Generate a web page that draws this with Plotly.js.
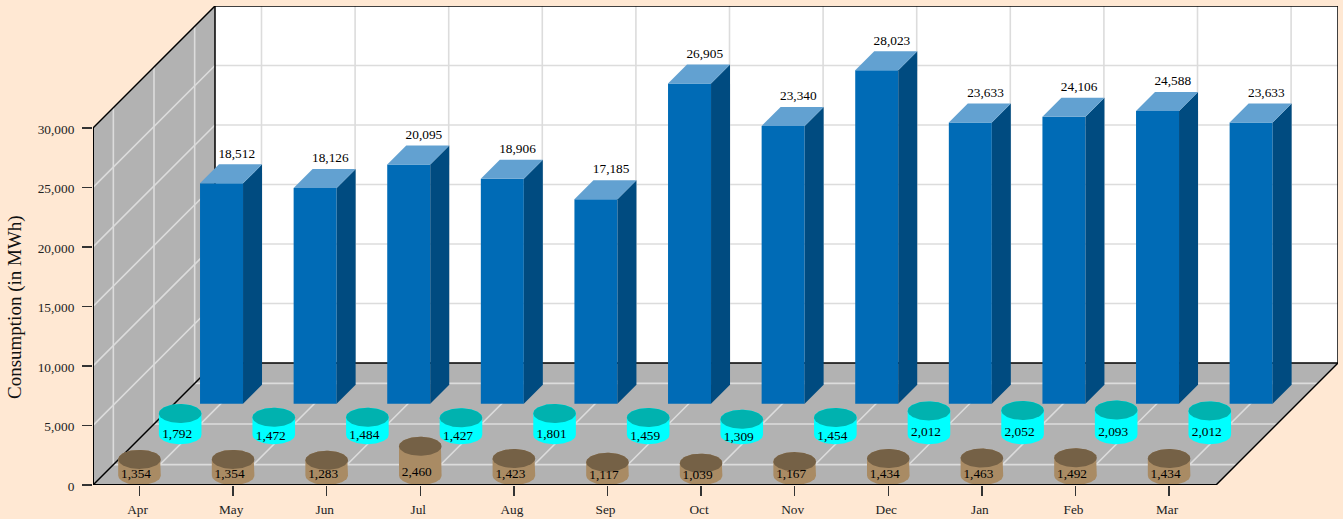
<!DOCTYPE html>
<html>
<head>
<meta charset="utf-8">
<script src="https://cdn.plot.ly/plotly-3.0.1.min.js"></script>
<style>html,body{margin:0;padding:0;background:#FFE8D3;overflow:hidden}</style>
</head>
<body>
<div id="chart" style="width:1343px;height:519px"></div>
<script>
const months = ['Apr','May','Jun','Jul','Aug','Sep','Oct','Nov','Dec','Jan','Feb','Mar'];
const blueValues = [18512,18126,20095,18906,17185,26905,23340,28023,23633,24106,24588,23633];
const cyanValues = [1792,1472,1484,1427,1801,1459,1309,1454,2012,2052,2093,2012];
const brownValues = [1354,1354,1283,2460,1423,1117,1039,1167,1434,1463,1492,1434];
const yTicks = [0,5000,10000,15000,20000,25000,30000];

// Projection: px per axis unit, and the oblique depth of the box
const PXX = 93.6, PXY = 357/30000, DEPTH = 122;
const dX = d => d*DEPTH/PXX, dY = d => d*DEPTH/PXY;
const ux = px => px/PXX, uy = px => px/PXY;
const xL = -46.5/PXX, xR = xL + 1123/PXX;
const xEnd = xL + 1245/PXX, yEnd = uy(479);
const P = (x,y,d) => [x+dX(d), y+dY(d)];

const traces = [];
function poly(pts,color){
  traces.push({type:'scatter',mode:'lines',x:pts.map(p=>p[0]).concat(pts[0][0]),y:pts.map(p=>p[1]).concat(pts[0][1]),
    fill:'toself',fillcolor:color,line:{width:0,color:color},hoverinfo:'skip',showlegend:false,cliponaxis:false});
}
function lines(segs,color,w){
  const x=[],y=[];
  segs.forEach(s=>{x.push(s[0][0],s[1][0],null);y.push(s[0][1],s[1][1],null);});
  traces.push({type:'scatter',mode:'lines',x,y,line:{width:w,color},hoverinfo:'skip',showlegend:false,cliponaxis:false});
}
function labels(x,y,text){
  traces.push({type:'scatter',mode:'text',x,y,text,textposition:'middle center',
    textfont:{family:'"Liberation Serif",serif',size:13.33,color:'#000'},hoverinfo:'skip',showlegend:false,cliponaxis:false});
}
const yTop = 30000, fmt = v => v.toLocaleString('en-US');

// Walls and floor
poly([P(xL,0,1),P(xR,0,1),P(xR,yTop,1),P(xL,yTop,1)],'#FFFFFF');
poly([P(xL,0,0),P(xL,0,1),P(xL,yTop,1),P(xL,yTop,0)],'#B2B2B2');
poly([P(xL,0,0),P(xR,0,0),P(xR,0,1),P(xL,0,1)],'#B2B2B2');

// Grid
const grid = '#DCDCDC', gridW = 1.6;
const depths = [1/6,1/2,5/6];
const back=[], side=[], floor=[];
yTicks.slice(1,-1).forEach(v=>{
  back.push([P(xL,v,1),P(xR,v,1)]);
  side.push([P(xL,v,0),P(xL,v,1)]);
});
months.forEach((m,i)=>{
  back.push([P(i,0,1),P(i,yTop,1)]);
  floor.push([P(i,0,0),P(i,0,1)]);
});
depths.forEach(d=>{
  side.push([P(xL,0,d),P(xL,yTop,d)]);
  floor.push([P(xL,0,d),P(xR,0,d)]);
});
lines(back,grid,gridW); lines(side,grid,gridW); lines(floor,grid,gridW);

// Frame
lines([
  [P(xL,0,0),P(xL,0,1)],[P(xL,yTop,0),P(xL,yTop,1)],[P(xR,0,0),P(xR,0,1)],
  [P(xL,0,1),P(xR,0,1)],[P(xL,yTop,1),P(xR,yTop,1)],[P(xL,0,1),P(xL,yTop,1)],[P(xR,0,1),P(xR,yTop,1)]
],'#000',1.5);

// Blue boxes
const hw = ux(21.5), boxD = 19/DEPTH, blueD = 2/3, blueShift = ux(0.7);
blueValues.forEach((v,i)=>{
  const a=blueD, b=blueD+boxD, l=i-hw+blueShift, r=i+hw+blueShift;
  poly([P(l,0,a),P(r,0,a),P(r,v,a),P(l,v,a)],'#006BB6');
  poly([P(r,0,a),P(r,0,b),P(r,v,b),P(r,v,a)],'#004B80');
  poly([P(l,v,a),P(r,v,a),P(r,v,b),P(l,v,b)],'#62A1D1');
});

// Cylinders
function cylinder(i,v,d,body,top){
  const rx=ux(21.3), ry=uy(9.5), c=P(i,uy(9.5),d), N=48;
  const cx=c[0], cy=c[1];
  const low=[], high=[], cap=[];
  for(let k=0;k<=N;k++){
    const t=Math.PI*k/N;
    low.push([cx-rx*Math.cos(t), cy-ry*Math.sin(t)]);
    high.push([cx+rx*Math.cos(t), cy+v+ry*Math.sin(t)]);
  }
  for(let k=0;k<2*N;k++){
    const t=Math.PI*k/N;
    cap.push([cx+rx*Math.cos(t), cy+v+ry*Math.sin(t)]);
  }
  poly(low.concat(high),body);
  poly(cap,top);
}
cyanValues.forEach((v,i)=>cylinder(i,v,1/3,'#00FFFF','#00B2AF'));
brownValues.forEach((v,i)=>cylinder(i,v,0,'#A98B64','#756146'));

// Axis lines along the front edge
lines([[P(xL,0,0),P(xR,0,0)],[P(xL,0,0),P(xL,yTop,0)]],'#000',2);

// Value labels
labels(months.map((m,i)=>i-hw+blueShift+dX(blueD)+ux(36.7)),blueValues.map(v=>v+dY(blueD)+uy(29)),blueValues.map(fmt));
labels(months.map((m,i)=>i+dX(1/3)-ux(3)),cyanValues.map(v=>v/2+uy(40)),cyanValues.map(fmt));
labels(months.map((m,i)=>i-ux(3.5)),brownValues.map(v=>v*0.17+uy(7.5)),brownValues.map(fmt));

const font = {family:'"Liberation Serif",serif',size:13.33,color:'#222'};
const layout = {
  width:1343,height:519,autosize:false,
  paper_bgcolor:'#FFE8D3',plot_bgcolor:'rgba(0,0,0,0)',
  margin:{l:93,r:5,t:6,b:34,pad:0},
  showlegend:false,hovermode:false,
  xaxis:{range:[xL,xEnd],tickmode:'array',tickvals:months.map((m,i)=>i),ticktext:months,
    showgrid:false,zeroline:false,showline:false,
    ticks:'outside',ticklen:10,tickwidth:1.5,tickcolor:'#333',tickfont:font,ticklabelstandoff:2,ticklabelshift:-2,fixedrange:true},
  yaxis:{range:[0,yEnd],tickmode:'array',tickvals:yTicks,ticktext:yTicks.map(fmt),
    showgrid:false,zeroline:false,showline:false,
    ticks:'outside',ticklen:10,tickwidth:1.5,tickcolor:'#333',tickfont:font,ticklabelstandoff:5,ticklabelshift:1,fixedrange:true},
  annotations:[{text:'Consumption (in MWh)',textangle:-90,xref:'paper',yref:'paper',
    x:(15-93)/1245,y:(485-307)/479,xanchor:'center',yanchor:'middle',showarrow:false,
    font:{family:'"Liberation Serif",serif',size:19,color:'#111'}}]
};
Plotly.newPlot('chart',traces,layout,{displayModeBar:false,staticPlot:true});
</script>
</body>
</html>
